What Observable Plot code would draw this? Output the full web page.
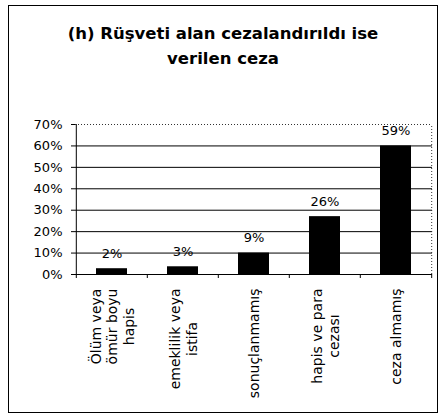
<!DOCTYPE html>
<html><head><meta charset="utf-8">
<script src="https://cdn.jsdelivr.net/npm/d3@7"></script>
<script src="https://cdn.jsdelivr.net/npm/@observablehq/plot@0.6"></script>
<style>
html,body{margin:0;padding:0;background:#fff;}
body{width:444px;height:419px;position:relative;overflow:hidden;font-family:"DejaVu Sans",sans-serif;color:#000;}
#frame{position:absolute;left:8px;top:5px;width:430px;height:408px;box-sizing:border-box;border:1px solid #000;}
#title{position:absolute;left:0;top:15px;width:428px;text-align:center;font-weight:bold;font-size:16.5px;line-height:25px;margin:0;color:#000;}
#chart{position:absolute;left:0;top:94px;}
</style></head><body>
<div id="frame"><h1 id="title">(h) Rüşveti alan cezalandırıldı ise<br>verilen ceza</h1><div id="chart"></div></div>
<script>
const categories = ["Ölüm veya\nömür boyu\nhapis", "emeklilik veya\nistifa", "sonuçlanmamış", "hapis ve para\ncezası", "ceza almamış"];
const values = [2.7, 3.6, 10, 27, 60];
const valueLabels = ["2%", "3%", "9%", "26%", "59%"];
const yTicks = [0, 10, 20, 30, 40, 50, 60, 70];

const W = 428, H = 312, mL = 66, mR = 5, mT = 24, mB = 138;
const step = (W - mL - mR) / categories.length;
const data = categories.map((c, i) => ({c, v: values[i], label: valueLabels[i]}));
const last = categories[categories.length - 1];

const chart = Plot.plot({
  width: W, height: H, marginLeft: mL, marginRight: mR, marginTop: mT, marginBottom: mB,
  style: {fontFamily: "DejaVu Sans, sans-serif", fontSize: "13px", color: "#000", background: "#fff", overflow: "visible"},
  x: {domain: categories, paddingInner: 0.566, paddingOuter: 0.283, axis: null},
  y: {domain: [0, 70]},
  marks: [
    Plot.ruleY(yTicks.filter(t => t < 70), {stroke: "#000", strokeWidth: 1}),
    Plot.ruleY([70], {stroke: "#333", strokeDasharray: "1,2"}),
    Plot.barY(data, {x: "c", y: "v", fill: "#000"}),
    Plot.ruleX([categories[0]], {x: d => d, dx: -step / 2, y1: 0, y2: 70, stroke: "#000"}),
    Plot.ruleX(categories, {x: d => d, dx: -step / 2, y1: 0, y2: 0, insetBottom: -4, stroke: "#000"}),
    Plot.ruleX([last], {x: d => d, dx: step / 2, y1: 0, y2: 70, stroke: "#333", strokeDasharray: "1,2"}),
    Plot.ruleX([last], {x: d => d, dx: step / 2, y1: 0, y2: 0, insetBottom: -4, stroke: "#000"}),
    Plot.axisY({ticks: yTicks, tickSize: 4, tickPadding: 9, tickFormat: d => d + "%", fontSize: 13, label: null}),
    Plot.text(data, {x: "c", y: "v", text: "label", dy: -15, fontSize: 13, fill: "#000"}),
    Plot.text(data, {x: "c", y: () => 0, text: "c", rotate: -90, textAnchor: "middle", lineAnchor: "middle", lineHeight: 1.2, dy: 14, fontSize: 14, fill: "#000", className: "xlab"})
  ]
});
document.getElementById("chart").appendChild(chart);
chart.querySelectorAll(".xlab text").forEach(t => {
  const w = t.getBBox().width;
  const tr = t.getAttribute("transform") || "";
  t.setAttribute("transform", tr + ` translate(${-w / 2},0)`);
});
</script>
</body></html>
